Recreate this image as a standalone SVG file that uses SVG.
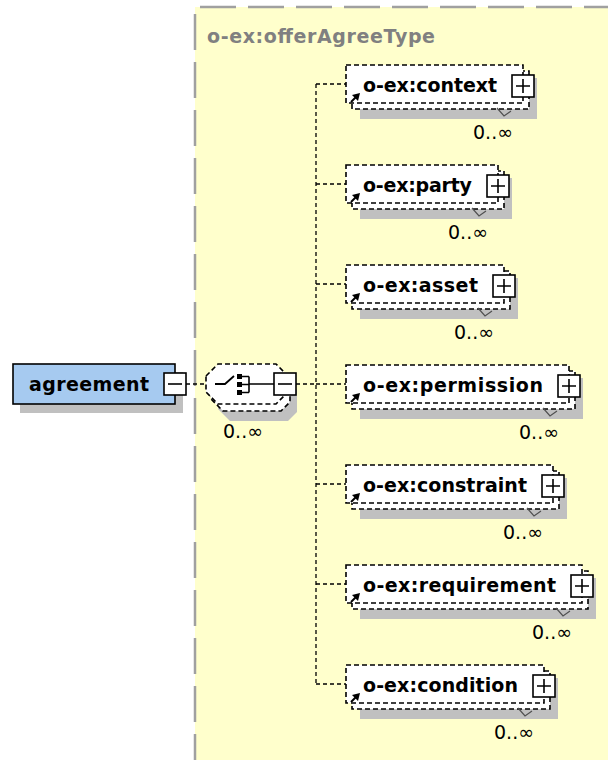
<svg xmlns="http://www.w3.org/2000/svg" xmlns:xlink="http://www.w3.org/1999/xlink" width="608" height="760" viewBox="0 0 608 760">
  <style>
    .name { font-family: "DejaVu Sans", Verdana, sans-serif; font-weight: bold; font-size: 19px; fill: #000; }
    .title { font-family: "DejaVu Sans", Verdana, sans-serif; font-weight: bold; font-size: 19px; fill: #808080; }
    .occ { font-family: "DejaVu Sans", Verdana, sans-serif; font-size: 19px; fill: #000; }
    .shadow { fill: #c0c0c0; stroke: none; }
    .opt { fill: #fff; stroke: #000; stroke-width: 1.6; stroke-dasharray: 5 3; }
    .btn { fill: #fff; stroke: #000; stroke-width: 1.6; }
    .sign { fill: none; stroke: #000; stroke-width: 1.6; }
    .notch { fill: none; stroke: #505050; stroke-width: 1.2; }
    .conn { fill: none; stroke: #000; stroke-width: 1.3; stroke-dasharray: 4 3; }
    .frame { fill: none; stroke: #a0a0a0; stroke-width: 2.5; stroke-dasharray: 36 12; }
  </style>
  <defs>
    <!-- reference marker drawn in the lower-left corner of element boxes -->
    <g id="refArrow">
      <path d="M351 37 L357 31" fill="none" stroke="#000" stroke-width="2"/>
      <polygon points="360,28 352,30 358,36" fill="#000"/>
    </g>
  </defs>

  <!-- complex type area -->
  <g id="typeArea">
    <rect x="195" y="7" width="420" height="760" fill="#ffffcc"/>
    <path class="frame" d="M200 7 H608"/>
    <path class="frame" d="M195 14 V760"/>
    <text class="title" x="207" y="43" textLength="228">o-ex:offerAgreeType</text>
  </g>

  <!-- connectors -->
  <g id="connectors">
    <path class="conn" d="M186 384 H206"/>
    <path class="conn" d="M296 384 H316"/>
    <path class="conn" d="M316 84 V684"/>
    <path class="conn" d="M316 84 H346"/>
    <path class="conn" d="M316 184 H346"/>
    <path class="conn" d="M316 284 H346"/>
    <path class="conn" d="M316 384 H346"/>
    <path class="conn" d="M316 484 H346"/>
    <path class="conn" d="M316 584 H346"/>
    <path class="conn" d="M316 684 H346"/>
  </g>

  <!-- root element -->
  <g id="agreement">
    <rect class="shadow" x="20" y="372" width="163" height="41"/>
    <rect x="13" y="364" width="162" height="40" fill="#a6caf0" stroke="#000" stroke-width="1.6"/>
    <text class="name" x="29" y="391" textLength="120">agreement</text>
    <rect class="btn" x="164" y="373" width="22" height="22"/>
    <path class="sign" d="M168 384 H182"/>
  </g>

  <!-- sequence compositor -->
  <g id="sequence">
    <polygon class="shadow" points="218,393 230,381 288,381 297,390 297,412 288,421 230,421 218,409"/>
    <polygon class="opt" points="211,383 223,371 281,371 290,380 290,402 281,411 223,411 211,399"/>
    <polygon class="opt" points="206,376 218,364 276,364 285,373 285,395 276,404 218,404 206,392"/>
    <path d="M215 384 H225 L234 376" fill="none" stroke="#000" stroke-width="1.8"/>
    <rect x="237" y="374" width="5" height="5" fill="#000"/>
    <rect x="237" y="382" width="5" height="5" fill="#000"/>
    <rect x="237" y="390" width="5" height="5" fill="#000"/>
    <path d="M242 376.5 H249 M242 384.5 H249 M242 392.5 H249 M249 376.5 V392.5 M249 384 H274" fill="none" stroke="#000" stroke-width="1.6"/>
    <rect class="btn" x="274" y="373" width="22" height="22"/>
    <path class="sign" d="M278 384 H292"/>
    <text class="occ" x="223" y="438">0..∞</text>
  </g>

  <!-- child elements -->
  <g id="context" transform="translate(0,65)">
    <rect class="shadow" x="360" y="13" width="177" height="41"/>
    <rect class="opt" x="352" y="6" width="177" height="38"/>
    <rect class="opt" x="346" y="0" width="177" height="38"/>
    <text class="name" x="363" y="27" textLength="134">o-ex:context</text>
    <use xlink:href="#refArrow"/>
    <rect class="btn" x="512" y="10" width="22" height="22"/>
    <path class="sign" d="M516 21 H530 M523 14 V28"/>
    <path class="notch" d="M497 43 L504 51 L511 46"/>
    <text class="occ" x="513" y="74" text-anchor="end">0..∞</text>
  </g>

  <g id="party" transform="translate(0,165)">
    <rect class="shadow" x="360" y="13" width="152" height="41"/>
    <rect class="opt" x="352" y="6" width="152" height="38"/>
    <rect class="opt" x="346" y="0" width="152" height="38"/>
    <text class="name" x="363" y="27" textLength="109">o-ex:party</text>
    <use xlink:href="#refArrow"/>
    <rect class="btn" x="487" y="10" width="22" height="22"/>
    <path class="sign" d="M491 21 H505 M498 14 V28"/>
    <path class="notch" d="M472 43 L479 51 L486 46"/>
    <text class="occ" x="488" y="74" text-anchor="end">0..∞</text>
  </g>

  <g id="asset" transform="translate(0,265)">
    <rect class="shadow" x="360" y="13" width="158" height="41"/>
    <rect class="opt" x="352" y="6" width="158" height="38"/>
    <rect class="opt" x="346" y="0" width="158" height="38"/>
    <text class="name" x="363" y="27" textLength="115">o-ex:asset</text>
    <use xlink:href="#refArrow"/>
    <rect class="btn" x="493" y="10" width="22" height="22"/>
    <path class="sign" d="M497 21 H511 M504 14 V28"/>
    <path class="notch" d="M478 43 L485 51 L492 46"/>
    <text class="occ" x="494" y="74" text-anchor="end">0..∞</text>
  </g>

  <g id="permission" transform="translate(0,365)">
    <rect class="shadow" x="360" y="13" width="223" height="41"/>
    <rect class="opt" x="352" y="6" width="223" height="38"/>
    <rect class="opt" x="346" y="0" width="223" height="38"/>
    <text class="name" x="363" y="27" textLength="180">o-ex:permission</text>
    <use xlink:href="#refArrow"/>
    <rect class="btn" x="558" y="10" width="22" height="22"/>
    <path class="sign" d="M562 21 H576 M569 14 V28"/>
    <path class="notch" d="M543 43 L550 51 L557 46"/>
    <text class="occ" x="559" y="74" text-anchor="end">0..∞</text>
  </g>

  <g id="constraint" transform="translate(0,465)">
    <rect class="shadow" x="360" y="13" width="207" height="41"/>
    <rect class="opt" x="352" y="6" width="207" height="38"/>
    <rect class="opt" x="346" y="0" width="207" height="38"/>
    <text class="name" x="363" y="27" textLength="164">o-ex:constraint</text>
    <use xlink:href="#refArrow"/>
    <rect class="btn" x="542" y="10" width="22" height="22"/>
    <path class="sign" d="M546 21 H560 M553 14 V28"/>
    <path class="notch" d="M527 43 L534 51 L541 46"/>
    <text class="occ" x="543" y="74" text-anchor="end">0..∞</text>
  </g>

  <g id="requirement" transform="translate(0,565)">
    <rect class="shadow" x="360" y="13" width="236" height="41"/>
    <rect class="opt" x="352" y="6" width="236" height="38"/>
    <rect class="opt" x="346" y="0" width="236" height="38"/>
    <text class="name" x="363" y="27" textLength="193">o-ex:requirement</text>
    <use xlink:href="#refArrow"/>
    <rect class="btn" x="571" y="10" width="22" height="22"/>
    <path class="sign" d="M575 21 H589 M582 14 V28"/>
    <path class="notch" d="M556 43 L563 51 L570 46"/>
    <text class="occ" x="572" y="74" text-anchor="end">0..∞</text>
  </g>

  <g id="condition" transform="translate(0,665)">
    <rect class="shadow" x="360" y="13" width="198" height="41"/>
    <rect class="opt" x="352" y="6" width="198" height="38"/>
    <rect class="opt" x="346" y="0" width="198" height="38"/>
    <text class="name" x="363" y="27" textLength="155">o-ex:condition</text>
    <use xlink:href="#refArrow"/>
    <rect class="btn" x="533" y="10" width="22" height="22"/>
    <path class="sign" d="M537 21 H551 M544 14 V28"/>
    <path class="notch" d="M518 43 L525 51 L532 46"/>
    <text class="occ" x="534" y="74" text-anchor="end">0..∞</text>
  </g>
</svg>
